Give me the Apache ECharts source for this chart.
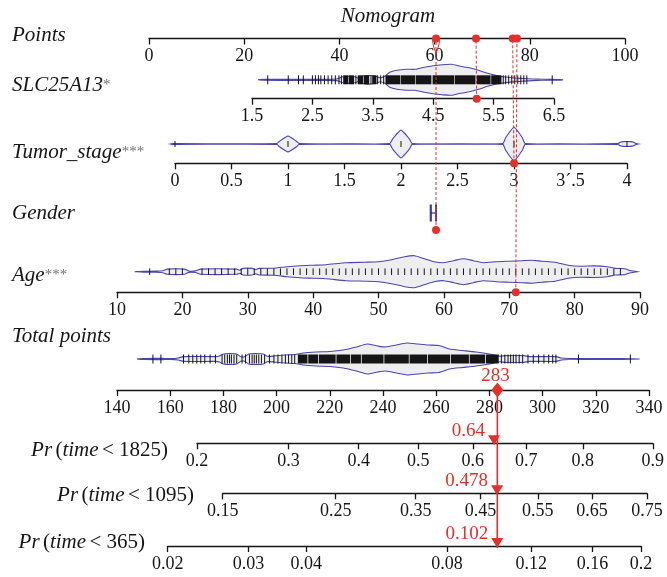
<!DOCTYPE html>
<html>
<head>
<meta charset="utf-8">
<title>Nomogram</title>
<script src="https://cdn.jsdelivr.net/npm/echarts@6.0.0/dist/echarts.min.js"></script>
<style>
html,body{margin:0;padding:0;background:#ffffff;}
#chart{width:667px;height:577px;}
</style>
</head>
<body>
<div id="chart"></div>
<script>
// ================= DATA =================
const chartTitle = 'Nomogram';
const rowLabels = ['Points', 'SLC25A13', 'Tumor_stage', 'Gender', 'Age', 'Total points'];
const rowStars = ['', '*', '***', '', '***', ''];
const probTimes = [1825, 1095, 365];

const pointsTicks = [0, 20, 40, 60, 80, 100];
const slcTicks = [1.5, 2.5, 3.5, 4.5, 5.5, 6.5];
const tumorTicks = [0, 0.5, 1, 1.5, 2, 2.5, 3, 3.5, 4];
const tumorTickLabels = ['0', '0.5', '1', '1.5', '2', '2.5', '3', '3\u00B4.5', '4'];
const ageTicks = [10, 20, 30, 40, 50, 60, 70, 80, 90];
const totalTicks = [140, 160, 180, 200, 220, 240, 260, 280, 300, 320, 340];
const p1825Ticks = [0.2, 0.3, 0.4, 0.5, 0.6, 0.7, 0.8, 0.9];
const p1095Ticks = [0.15, 0.25, 0.35, 0.45, 0.55, 0.65, 0.75];
const p365Ticks = [0.02, 0.03, 0.04, 0.08, 0.12, 0.16, 0.2];

// violin outlines: [value, density half-width]
const slcDensity = [[1.6,0],[1.7,0.5],[2.2,0.6],[2.6,0.6],[2.9,0.8],[3.0,3],[3.1,3.6],[3.2,3],[3.27,1.5],[3.35,4],[3.45,4.3],[3.55,3.5],[3.62,2],[3.7,3.5],[3.78,7.5],[3.9,9.5],[4.05,10.5],[4.2,10.5],[4.35,12.5],[4.5,14],[4.65,15],[4.8,15.5],[4.95,13.5],[5.1,12],[5.25,9.5],[5.4,6.5],[5.55,4.2],[5.7,2.8],[5.85,1.8],[6.0,1.3],[6.15,0.8],[6.3,0.5],[6.6,0.3],[6.65,0]];
const slcRug = [1.76, 2.1, 2.27, 2.35, 2.5, 2.55, 2.6, 2.64, 2.7, 2.76, 2.82, 2.88, 2.94, 2.98, 3.22, 3.47, 3.58, 3.63, 3.68, 5.66, 5.7, 5.75, 5.8, 5.85, 5.9, 5.95, 6.0, 6.05, 6.47];
const slcRugBands = [[3.01, 3.09], [3.1, 3.19], [3.25, 3.34], [3.35, 3.44], [3.49, 3.56], [3.71, 3.95], [3.96, 4.2], [4.21, 4.47], [4.49, 4.85], [4.86, 5.2], [5.22, 5.45], [5.46, 5.63]];

const tumorDensity = [[-0.04,0],[-0.02,0.4],[0.9,0.4],[0.925,2.8],[0.95,4.8],[0.975,6.6],[1,8],[1.025,6.6],[1.05,4.8],[1.075,2.8],[1.1,0.4],[1.9,0.4],[1.925,4.9],[1.95,8.4],[1.975,11.5],[2,14],[2.025,11.5],[2.05,8.4],[2.075,4.9],[2.1,0.4],[2.9,0.4],[2.925,6],[2.95,10.2],[2.975,14],[3,17],[3.025,14],[3.05,10.2],[3.075,6],[3.1,0.4],[3.92,0.4],[3.94,1.8],[3.97,2.4],[4.03,2.4],[4.06,1.8],[4.08,0.4],[4.1,0]];
const tumorRug = [0, 1, 2, 3, 4];

const genderLevelsPts = [59.2, 60.3];

const ageDensity = [[12.7,0],[14,0.4],[16,0.6],[17,1],[17.7,2.6],[20.3,2.6],[21,0.7],[22,0.8],[22.8,2.6],[28.3,2.6],[28.8,1.5],[29.3,3.3],[30.7,3.3],[31.2,2],[31.7,3.3],[34,3.5],[36,5],[38,6],[40,6.5],[42,7],[45,9],[48,9.5],[50,10],[52,12],[54,15],[55.5,16],[57,13],[58.5,10],[60,9],[61.5,11],[63,13],[64.5,11],[66,9],[68,10],[70,10.5],[72,11],[73.5,11.5],[75,10.5],[77,9.5],[79,6.5],[81,5.5],[83,5.8],[85,5],[86.2,3.3],[87.7,3],[88.3,1.5],[89.6,0]];
const ageRug = [15,18,19,20,23,24,25,26,27,28,29,30,31,32,33,34,35,36,37,38,39,40,41,42,43,44,45,46,47,48,49,50,51,52,53,54,55,56,57,58,59,60,61,62,63,64,65,66,67,68,69,70,71,72,73,74,75,76,77,78,79,80,81,82,83,84,85,86,87];

const totalDensity = [[147.5,0],[150,0.5],[157,0.6],[160,0.4],[163,1],[165,2.4],[177,2.4],[178.5,3],[180,5],[182.5,5.5],[185,5],[186.5,2.2],[188,2.2],[189.5,5],[192,5.5],[195,5],[196.5,2.7],[199,3],[203,4],[207,4.5],[210,6],[215,7],[220,7.5],[225,9],[230,12],[234,15],[238,13],[241,12],[245,14],[249,16],[253,15],[257,14],[261,13.5],[265,10],[270,8.5],[275,7],[280,5],[284,2.7],[286,3.4],[293,3.4],[295,2.4],[305,2.4],[307,1],[310,0.5],[320,0.4],[330,0.4],[336.5,0]];
const totalRug = [153.5, 156.5, 165, 167, 168.5, 170, 171.5, 173, 175, 177, 179.5, 180.5, 181.5, 182.3, 183, 184, 185, 187, 188.3, 189.8, 190.8, 191.6, 192.4, 193.3, 194.3, 195.5, 197.3, 199, 200.5, 202, 203.3, 204.5, 205.7, 206.8, 284.5, 285.8, 287, 288, 289, 290, 291.2, 292.5, 294.5, 296.5, 298.5, 300.5, 302.3, 303.8, 305, 313.5, 333];
const totalRugBands = [[208, 211.6], [211.9, 215.6], [215.9, 222.2], [222.5, 227.6], [227.9, 231.7], [232, 240.2], [240.5, 249.7], [250, 256.6], [256.9, 265.2], [265.5, 272.3], [272.6, 278.4], [278.7, 283.5]];

// the example patient
const patientSLC = 5.22, patientTumor = 3, patientAge = 71;
const patientPoints = [68.7, 76.4, 60.3, 77.3];   // SLC25A13, Tumor_stage, Gender, Age
const totalScore = 283;
const survivalProbs = [0.64, 0.478, 0.102];     // for 1825, 1095, 365

// ================= STYLE / LAYOUT =================
const FONT = '"Liberation Serif", "Times New Roman", serif';
const RED = '#e3302a';
const VIOLET = '#4a46b0';
const INK = '#151515';
const cll = p => Math.log(-Math.log(1 - p)); // complementary log-log scale of the probability axes

const rows = [
  {key:'points', left:149,   right:625, axisY:38.5,  centerY:28.5, ticks:pointsTicks},
  {key:'slc',    left:252,   right:554, axisY:98.7,  centerY:79.8, ticks:slcTicks},
  {key:'tumor',  left:175,   right:627, axisY:163.3, centerY:144,  ticks:tumorTicks, labels:tumorTickLabels},
  {key:'gender', left:149,   right:625, axisY:230,   centerY:213,  ticks:pointsTicks, hidden:true},
  {key:'age',    left:117,   right:640, axisY:292.3, centerY:271.7, ticks:ageTicks},
  {key:'total',  left:117,   right:649, axisY:390,   centerY:359,  ticks:totalTicks},
  {key:'p1825',  left:197,   right:657, axisY:443.3, centerY:433,  ticks:p1825Ticks, prob:true},
  {key:'p1095',  left:222.7, right:647, axisY:493.3, centerY:483,  ticks:p1095Ticks, prob:true},
  {key:'p365',   left:167.7, right:641, axisY:546,   centerY:536,  ticks:p365Ticks, prob:true}
];
const IDX = {}; rows.forEach((r, i) => { IDX[r.key] = i; r.yMin = r.centerY - r.axisY; });
const HEAD = 25;

const grids = rows.map(r => ({left: r.left, width: r.right - r.left, top: r.centerY - HEAD, height: r.axisY - r.centerY + HEAD, containLabel: false}));

const xAxes = rows.map((r, i) => {
  const vals = r.prob ? r.ticks.map(cll) : r.ticks.slice();
  const labs = r.labels || r.ticks.map(String);
  return {
    type: 'value', gridIndex: i, min: vals[0], max: vals[vals.length - 1], show: !r.hidden,
    position: 'bottom', scale: true,
    axisLine: {show: true, onZero: false, lineStyle: {color: INK, width: 1.3}},
    axisTick: {show: true, length: 6, customValues: vals, lineStyle: {color: INK, width: 1.3}},
    axisLabel: {show: true, customValues: vals, margin: 9, fontFamily: FONT, fontSize: 18, color: INK,
      formatter: v => { let k = 0, best = Infinity; vals.forEach((t, j) => { const d = Math.abs(t - v); if (d < best) { best = d; k = j; } }); return labs[k]; }},
    splitLine: {show: false}
  };
});
const yAxes = rows.map((r, i) => ({type: 'value', gridIndex: i, min: r.yMin, max: HEAD, show: false}));

function violinSeries(idx, density) {
  return {type: 'custom', coordinateSystem: 'cartesian2d', xAxisIndex: idx, yAxisIndex: idx, clip: false, silent: true, z: 2,
    data: [[density[0][0], 0]],
    renderItem: (params, api) => {
      const pts = [];
      density.forEach(d => pts.push(api.coord([d[0], d[1]])));
      for (let k = density.length - 1; k >= 0; k--) pts.push(api.coord([density[k][0], -density[k][1]]));
      return {type: 'polygon', shape: {points: pts, smooth: 0.2}, style: {fill: '#eeeef0', stroke: VIOLET, lineWidth: 1.1}};
    }};
}
function rugSeries(idx, values, half, width) {
  return {type: 'custom', coordinateSystem: 'cartesian2d', xAxisIndex: idx, yAxisIndex: idx, clip: false, silent: true, z: 3,
    data: values.map(v => [v, 0]),
    renderItem: (params, api) => {
      const v = api.value(0);
      const a = api.coord([v, half]), b = api.coord([v, -half]);
      return {type: 'line', shape: {x1: a[0], y1: a[1], x2: b[0], y2: b[1]}, style: {stroke: INK, lineWidth: width}};
    }};
}
function bandSeries(idx, bands, half) {
  return {type: 'custom', coordinateSystem: 'cartesian2d', xAxisIndex: idx, yAxisIndex: idx, clip: false, silent: true, z: 3,
    data: bands.map(b => [b[0], b[1]]),
    renderItem: (params, api) => {
      const a = api.coord([api.value(0), half]), b = api.coord([api.value(1), -half]);
      return {type: 'rect', shape: {x: a[0], y: a[1], width: b[0] - a[0], height: b[1] - a[1]}, style: {fill: INK}};
    }};
}
function dotSeries(idx, xs, extra) {
  return Object.assign({type: 'scatter', xAxisIndex: idx, yAxisIndex: idx, silent: true, z: 20,
    symbol: 'circle', symbolSize: 8, itemStyle: {color: RED, opacity: 1},
    data: xs.map(x => [x, rows[idx].yMin])}, extra || {});
}
const TRI = 'path://M0,0 L12,0 L6,10 Z';

const seriesList = [
  violinSeries(IDX.slc, slcDensity), rugSeries(IDX.slc, slcRug, 4.5, 1), bandSeries(IDX.slc, slcRugBands, 4.5),
  violinSeries(IDX.tumor, tumorDensity), rugSeries(IDX.tumor, tumorRug, 3, 1),
  violinSeries(IDX.age, ageDensity), rugSeries(IDX.age, ageRug, 3.3, 1),
  violinSeries(IDX.total, totalDensity), rugSeries(IDX.total, totalRug, 4.5, 1), bandSeries(IDX.total, totalRugBands, 4.5),
  {type: 'custom', coordinateSystem: 'cartesian2d', xAxisIndex: IDX.gender, yAxisIndex: IDX.gender, clip: false, silent: true, z: 3,
    data: [[genderLevelsPts[0], 0]],
    renderItem: (params, api) => {
      const a0 = api.coord([genderLevelsPts[0], 8.5]), b0 = api.coord([genderLevelsPts[0], -8.5]);
      const a1 = api.coord([genderLevelsPts[1], 8.5]), b1 = api.coord([genderLevelsPts[1], -8.5]);
      const m0 = api.coord([genderLevelsPts[0], 0]), m1 = api.coord([genderLevelsPts[1], 0]);
      return {type: 'group', children: [
        {type: 'line', shape: {x1: a0[0], y1: a0[1], x2: b0[0], y2: b0[1]}, style: {stroke: '#3a3ab8', lineWidth: 2.2}},
        {type: 'line', shape: {x1: a1[0], y1: a1[1], x2: b1[0], y2: b1[1]}, style: {stroke: '#1b1b60', lineWidth: 1.6}},
        {type: 'line', shape: {x1: m0[0], y1: m0[1], x2: m1[0], y2: m1[1]}, style: {stroke: '#2a2a90', lineWidth: 1.2}}
      ]};
    }},
  // small red outline hanging under the gender mark on the Points axis
  dotSeries(IDX.points, [patientPoints[2]], {symbol: 'path://M0,0 C0,6 2,11 4,15 C6,11 8,6 8,0 C6,-1 2,-1 0,0 Z', symbolSize: [7, 14], symbolOffset: [0, 7], z: 19,
    itemStyle: {color: 'rgba(0,0,0,0)', borderColor: RED, borderWidth: 1.2, opacity: 1}}),
  dotSeries(IDX.points, patientPoints),
  dotSeries(IDX.slc, [patientSLC]),
  dotSeries(IDX.tumor, [patientTumor]),
  dotSeries(IDX.gender, [patientPoints[2]]),
  dotSeries(IDX.age, [patientAge]),
  dotSeries(IDX.total, [totalScore], {symbol: 'diamond', symbolSize: [12, 15]}),
  dotSeries(IDX.p1825, [cll(survivalProbs[0])], {symbol: TRI, symbolSize: [12, 10], symbolOffset: [0, -3]}),
  dotSeries(IDX.p1095, [cll(survivalProbs[1])], {symbol: TRI, symbolSize: [12, 10], symbolOffset: [0, -3]}),
  dotSeries(IDX.p365, [cll(survivalProbs[2])], {symbol: TRI, symbolSize: [12, 10], symbolOffset: [0, -3]})
];

const chart = echarts.init(document.getElementById('chart'), null, {renderer: 'canvas'});
chart.setOption({animation: false, backgroundColor: '#ffffff', grid: grids, xAxis: xAxes, yAxis: yAxes, series: seriesList});

// ================= annotations (positions via the axes' scales) =================
const toPx = (key, x, y) => chart.convertToPixel({gridIndex: IDX[key]}, [x, y]);
const gfx = [];
const richBase = {
  i: {fontFamily: FONT, fontStyle: 'italic', fontSize: 21, fill: INK},
  r: {fontFamily: FONT, fontSize: 21, fill: INK},
  s: {fontFamily: FONT, fontSize: 15, fill: '#707070'}
};
gfx.push({type: 'text', z: 30, style: {x: 388, y: 16, text: chartTitle, font: 'italic 21px ' + FONT, fill: INK, align: 'center', verticalAlign: 'middle'}});
const labelY = [35, 85, 152, 213, 275, 336];
rowLabels.forEach((t, k) => {
  gfx.push({type: 'text', z: 30, style: {x: 12, y: labelY[k], text: '{i|' + t + '}' + (rowStars[k] ? '{s|' + rowStars[k] + '}' : ''), rich: richBase, align: 'left', verticalAlign: 'middle'}});
});
const probLabelPos = [[168, 450], [194, 495], [145, 542.5]];
probTimes.forEach((t, k) => {
  gfx.push({type: 'text', z: 30, style: {x: probLabelPos[k][0], y: probLabelPos[k][1], text: '{i|Pr} {r|(}{i|time} {r|< ' + t + ')}', rich: richBase, align: 'right', verticalAlign: 'middle'}});
});

// dashed guides from each predictor to the Points axis
const dash = (a, b) => gfx.push({type: 'line', z: 10, shape: {x1: a[0], y1: a[1], x2: b[0], y2: b[1]}, style: {stroke: RED, lineWidth: 1, lineDash: [3, 2]}});
const ptsRow = rows[IDX.points];
dash(toPx('slc', patientSLC, rows[IDX.slc].yMin), toPx('points', patientPoints[0], ptsRow.yMin));
dash(toPx('tumor', patientTumor, rows[IDX.tumor].yMin), toPx('points', patientPoints[1], ptsRow.yMin));
dash(toPx('gender', patientPoints[2], rows[IDX.gender].yMin), toPx('points', patientPoints[2], ptsRow.yMin));
dash(toPx('age', patientAge, rows[IDX.age].yMin), toPx('points', patientPoints[3], ptsRow.yMin));

// solid line from total points to the bottom probability axis
const totPx = toPx('total', totalScore, rows[IDX.total].yMin);
const endPx = toPx('p365', cll(survivalProbs[2]), rows[IDX.p365].yMin);
gfx.push({type: 'line', z: 10, shape: {x1: totPx[0], y1: totPx[1], x2: endPx[0], y2: endPx[1] + 2}, style: {stroke: RED, lineWidth: 1.6}});
gfx.push({type: 'text', z: 30, style: {x: totPx[0] - 2, y: totPx[1] - 14, text: String(totalScore), font: '19px ' + FONT, fill: RED, align: 'center', verticalAlign: 'middle'}});
['p1825', 'p1095', 'p365'].forEach((key, k) => {
  const p = toPx(key, cll(survivalProbs[k]), rows[IDX[key]].yMin);
  gfx.push({type: 'text', z: 30, style: {x: p[0] - 9, y: p[1] - 12, text: String(survivalProbs[k]), font: '19px ' + FONT, fill: RED, align: 'right', verticalAlign: 'middle'}});
});
chart.setOption({graphic: gfx});
</script>
</body>
</html>
